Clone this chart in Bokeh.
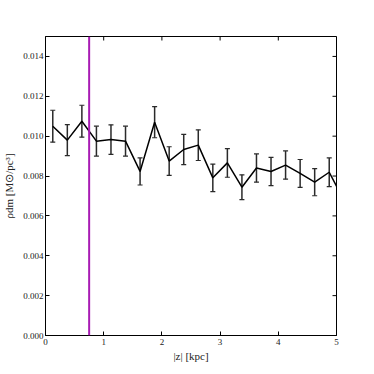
import math
from bokeh.plotting import figure
from bokeh.models import Range1d, Whisker, ColumnDataSource, Span, FixedTicker, PrintfTickFormatter
from bokeh.embed import file_html
from bokeh.resources import INLINE

z_kpc = [0.125, 0.375, 0.625, 0.875, 1.125, 1.375, 1.625, 1.875, 2.125, 2.375,
         2.625, 2.875, 3.125, 3.375, 3.625, 3.875, 4.125, 4.375, 4.625, 4.875, 5.125]
rho_dm = [0.0105, 0.0098, 0.01075, 0.00975, 0.00983, 0.00975, 0.00823, 0.0107, 0.00875, 0.00933,
          0.00955, 0.00791, 0.00866, 0.00744, 0.0084, 0.00823, 0.00855, 0.00813, 0.00769, 0.00819, 0.0068]
rho_err = [0.0008, 0.00078, 0.0008, 0.00075, 0.00074, 0.00075, 0.00068, 0.00078, 0.00072, 0.00076,
           0.00077, 0.00069, 0.00072, 0.00062, 0.00071, 0.00071, 0.00071, 0.0007, 0.00068, 0.00072, 0.0007]
z_marker = 0.75
x_ticks = [0, 1, 2, 3, 4, 5]
y_ticks = [0.000, 0.002, 0.004, 0.006, 0.008, 0.010, 0.012, 0.014]
x_lim = (0, 5)
y_lim = (0, 0.015)

FONT = "Liberation Serif"

p = figure(frame_width=291, frame_height=299, output_backend="svg", toolbar_location=None,
           x_range=Range1d(*x_lim), y_range=Range1d(*y_lim),
           min_border_left=45, min_border_top=36, min_border_right=21, min_border_bottom=24)
p.grid.visible = False
p.outline_line_color = "black"
p.outline_line_width = 1
p.background_fill_color = "white"
p.border_fill_color = "white"

src = ColumnDataSource(dict(x=z_kpc, y=rho_dm,
                            lo=[a - b for a, b in zip(rho_dm, rho_err)],
                            hi=[a + b for a, b in zip(rho_dm, rho_err)]))

p.add_layout(Span(location=z_marker, dimension="height", line_color="#a81cb4", line_width=2))

w = Whisker(source=src, base="x", lower="lo", upper="hi", line_color="#2a2a2a", line_width=1.5)
for h in (w.upper_head, w.lower_head):
    h.size = 5
    h.line_color = "#2a2a2a"
    h.line_width = 1.2
p.add_layout(w)

p.line("x", "y", source=src, line_color="black", line_width=1.5)

# inward ticks on top and right edges (half of each dash is clipped by the frame)
p.scatter(x=x_ticks, y=[y_lim[1]] * len(x_ticks), marker="dash", size=8,
          angle=math.pi / 2, line_color="black", line_width=1)
p.scatter(x=[x_lim[1]] * len(y_ticks), y=y_ticks, marker="dash", size=8,
          line_color="black", line_width=1)

for ax in (p.xaxis[0], p.yaxis[0]):
    ax.major_tick_in = 4
    ax.major_tick_out = 0
    ax.minor_tick_in = 0
    ax.minor_tick_out = 0
    ax.axis_line_color = "black"
    ax.major_label_text_font = FONT
    ax.major_label_text_font_size = "9px"
    ax.major_label_text_color = "#222222"
    ax.axis_label_text_font = FONT
    ax.axis_label_text_font_size = "11px"
    ax.axis_label_text_font_style = "normal"
    ax.axis_label_text_color = "#222222"

p.xaxis.ticker = FixedTicker(ticks=x_ticks)
p.yaxis.ticker = FixedTicker(ticks=y_ticks)
p.yaxis.formatter = PrintfTickFormatter(format="%.3f")
p.xaxis.axis_label = "|z| [kpc]"
p.yaxis.axis_label = "ρdm [M⊙/pc³]"
p.xaxis.major_label_standoff = 3
p.yaxis.major_label_standoff = 2
p.xaxis.axis_label_standoff = 2
p.yaxis.axis_label_standoff = 5

open("out.html", "w").write(file_html(p, INLINE))
